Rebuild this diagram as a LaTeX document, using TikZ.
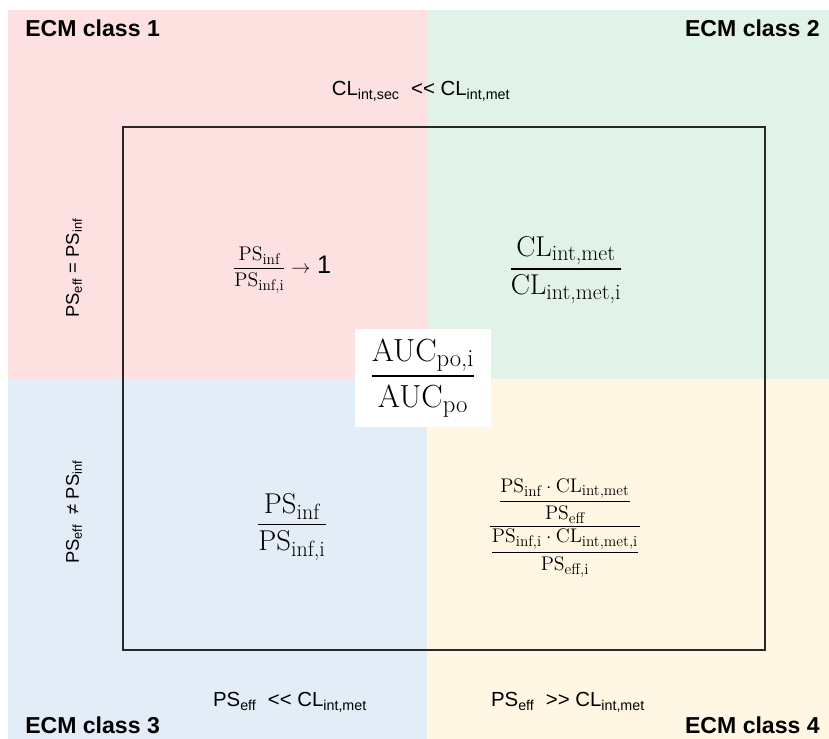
\documentclass[tikz,border=0pt]{standalone}
\usepackage{amsmath}
\usepackage{fontspec}
\newfontfamily\arial{Liberation Sans}
\DeclareMathSizes{21.5}{21.5}{16.5}{12}
\DeclareMathSizes{24}{24}{18.5}{14}
\DeclareMathSizes{14.8}{14.8}{11.5}{9}
\definecolor{qpink}{RGB}{253,225,225}
\definecolor{qgreen}{RGB}{225,243,233}
\definecolor{qblue}{RGB}{226,237,248}
\definecolor{qcream}{RGB}{255,247,228}
\definecolor{qline}{RGB}{40,40,40}
\newcommand{\tx}[1]{\text{#1}}
\newcommand{\asub}[1]{\textsubscript{#1}}
\tikzset{
  ecm/.style={font=\arial\bfseries\fontsize{17.3}{19}\selectfont, inner sep=0pt},
  cond/.style={font=\arial\fontsize{15.3}{17}\selectfont, inner sep=0pt},
  rcond/.style={font=\arial\fontsize{13.8}{16}\selectfont, inner sep=0pt, rotate=90},
  frm/.style={font=\fontsize{21.5}{24}\selectfont, inner sep=0pt},
  frmsmall/.style={font=\fontsize{14.8}{17}\selectfont, inner sep=0pt},
}
\begin{document}
\begin{tikzpicture}[x=0.75pt,y=-0.75pt]
\useasboundingbox (0,0) rectangle (829,739);
\fill[qpink] (8,10) rectangle (427,379);
\fill[qgreen] (427,10) rectangle (829,379);
\fill[qblue] (8,379) rectangle (427,739);
\fill[qcream] (427,379) rectangle (829,739);
\draw[qline, line width=0.8pt] (123,127) rectangle (765,650);

\node[ecm, anchor=west] (c1) at (25,28) {ECM class 1};
\node[ecm, anchor=east] (c2) at (820,28) {ECM class 2};
\node[ecm, anchor=west] (c3) at (25,725) {ECM class 3};
\node[ecm, anchor=east] (c4) at (820,725) {ECM class 4};

\node[cond] (top) at (421,91) {CL\asub{int,sec}~~{<}{<}~CL\asub{int,met}};
\node[rcond] (l1) at (74,268) {PS\asub{eff} = PS\asub{inf}};
\node[rcond] (l2) at (74,512) {PS\asub{eff} ~≠ PS\asub{inf}};
\node[cond] (b1) at (290,702) {PS\asub{eff} ~{<}{<}~CL\asub{int,met}};
\node[cond] (b2) at (568,702) {PS\asub{eff} ~{>}{>}~CL\asub{int,met}};

\node[frmsmall] (q1) at (282,270) {$\dfrac{\tx{PS}_{\tx{inf}}}{\tx{PS}_{\tx{inf,i}}}\rightarrow$ {\arial\fontsize{19}{21}\selectfont 1}};
\node[frm] (q2) at (566,270) {$\dfrac{\tx{CL}_{\tx{int,met}}}{\tx{CL}_{\tx{int,met,i}}}$};
\node[frm] (q3) at (292,527) {$\dfrac{\tx{PS}_{\tx{inf}}}{\tx{PS}_{\tx{inf,i}}}$};
\node[frmsmall] (q4) at (565,528) {$\dfrac{\dfrac{\tx{PS}_{\tx{inf}}\cdot\tx{CL}_{\tx{int,met}}}{\tx{PS}_{\tx{eff}}}}{\dfrac{\tx{PS}_{\tx{inf,i}}\cdot\tx{CL}_{\tx{int,met,i}}}{\tx{PS}_{\tx{eff,i}}}}$};
\node[fill=white, minimum width=102pt, minimum height=73pt, inner sep=0pt, font=\fontsize{24}{27}\selectfont] (auc) at (423,378) {$\dfrac{\tx{AUC}_{\tx{po,i}}}{\tx{AUC}_{\tx{po}}}$};
\end{tikzpicture}
\end{document}
